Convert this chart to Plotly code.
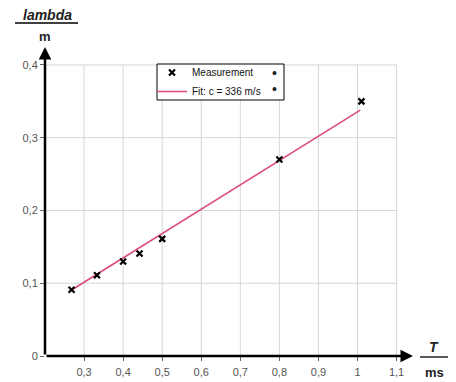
import plotly.graph_objects as go

# ---- data ----
T_ms = [0.268, 0.333, 0.400, 0.442, 0.500, 0.800, 1.010]
lambda_m = [0.091, 0.111, 0.130, 0.141, 0.161, 0.270, 0.350]
fit_T = [0.263, 1.007]
fit_lambda = [0.089, 0.338]
x_ticks = [0.3, 0.4, 0.5, 0.6, 0.7, 0.8, 0.9, 1.0, 1.1]
y_ticks = [0.0, 0.1, 0.2, 0.3, 0.4]
series_names = ["Measurement", "Fit: c = 336 m/s"]

# ---- layout geometry (window px minus 8px body margin) ----
OFF = 8
W, H = 456 - OFF, 382 - OFF
L, T = 45 - OFF, 47 - OFF
R = W - (413 - OFF)
B = H - (356 - OFF)
X0, X1 = 0.2, 1.142
Y0, Y1 = 0.0, 0.4247
FONT = "Liberation Sans, Arial, sans-serif"

def px(xw):
    return (xw - OFF - L) / (W - L - R)

def py(yw):
    return (H - B - (yw - OFF)) / (H - T - B)

fig = go.Figure()

fig.add_trace(go.Scatter(
    x=fit_T, y=fit_lambda, mode="lines", name=series_names[1],
    line=dict(color="#dc4a78", width=1.5),
))
fig.add_trace(go.Scatter(
    x=T_ms, y=lambda_m, mode="markers", name=series_names[0],
    marker=dict(symbol="x-thin", size=6, line=dict(color="black", width=2.2), color="black"),
))

shapes = []
for xv in x_ticks:
    shapes.append(dict(type="line", xref="x", yref="y", x0=xv, x1=xv, y0=0, y1=y_ticks[-1],
                       line=dict(color="#d6d6d6", width=1), layer="below"))
for yv in y_ticks[1:]:
    shapes.append(dict(type="line", xref="x", yref="y", x0=X0, x1=x_ticks[-1], y0=yv, y1=yv,
                       line=dict(color="#d6d6d6", width=1), layer="below"))
shapes.append(dict(type="line", xref="paper", yref="paper", x0=px(15), x1=px(78), y0=py(23), y1=py(23),
                   line=dict(color="black", width=1.3)))
shapes.append(dict(type="line", xref="paper", yref="paper", x0=px(420), x1=px(448), y0=py(357), y1=py(357),
                   line=dict(color="black", width=1.3)))
shapes.append(dict(type="rect", xref="paper", yref="paper", x0=px(157), x1=px(284), y0=py(100), y1=py(64),
                   line=dict(color="black", width=1), fillcolor="white", layer="above"))

def label(xw, yw, text, size):
    return dict(x=px(xw), y=py(yw), xref="paper", yref="paper", text=text,
                xanchor="center", yanchor="middle", showarrow=False,
                font=dict(family=FONT, size=size, color="#222"))

annotations = [
    dict(x=X1, y=0, ax=X0, ay=0, xref="x", yref="y", axref="x", ayref="y", text="",
         showarrow=True, arrowhead=2, arrowsize=1.0, arrowwidth=2.5, arrowcolor="black"),
    dict(x=X0, y=Y1, ax=X0, ay=0, xref="x", yref="y", axref="x", ayref="y", text="",
         showarrow=True, arrowhead=2, arrowsize=1.0, arrowwidth=2.5, arrowcolor="black"),
    label(47, 15, "<b><i>lambda</i></b>", 14),
    label(45, 36, "<b>m</b>", 13),
    label(434, 347, "<b><i>T</i></b>", 14),
    label(434, 372, "<b>ms</b>", 13),
    label(274, 73, "•", 14),
    label(274, 89, "•", 14),
]

fig.update_layout(
    width=W, height=H,
    margin=dict(l=L, r=R, t=T, b=B, pad=0),
    paper_bgcolor="white", plot_bgcolor="white",
    separators=", ",
    showlegend=True,
    legend=dict(x=px(152), y=py(58), xanchor="left", yanchor="top",
                bgcolor="rgba(0,0,0,0)", borderwidth=0,
                font=dict(family=FONT, size=10, color="#111"),
                traceorder="reversed", tracegroupgap=0),
    xaxis=dict(range=[X0, X1], tickvals=x_ticks, showgrid=False, zeroline=False, showline=False,
               ticks="outside", ticklen=4, tickcolor="#666", automargin=False,
               ticklabelstandoff=2,
               tickfont=dict(family=FONT, size=11, color="#555")),
    yaxis=dict(range=[Y0, Y1], tickvals=y_ticks, showgrid=False, zeroline=False, showline=False,
               ticks="outside", ticklen=4, tickcolor="#666", automargin=False,
               tickfont=dict(family=FONT, size=11, color="#555")),
    shapes=shapes,
    annotations=annotations,
)

fig.write_html("out.html")
